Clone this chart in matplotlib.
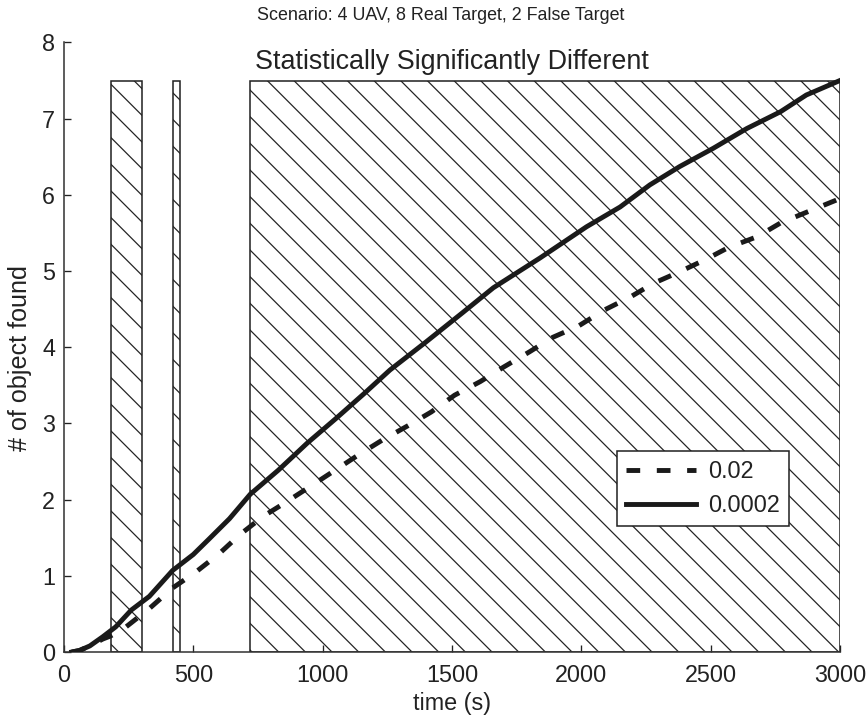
import matplotlib
matplotlib.use("Agg")
import matplotlib.pyplot as plt
from matplotlib.patches import Rectangle

plt.rcParams['font.family'] = ['Liberation Sans', 'DejaVu Sans']
plt.rcParams['hatch.linewidth'] = 0.55

# Data
t_solid = [30, 60, 100, 150, 200, 260, 330, 420, 500, 560, 640, 720, 830, 940, 1050,
           1160, 1260, 1400, 1540, 1660, 1840, 2020, 2150, 2265, 2380, 2510, 2640,
           2770, 2870, 3000]
y_solid = [0, 0.02, 0.08, 0.2, 0.33, 0.55, 0.73, 1.07, 1.28, 1.48, 1.75, 2.07, 2.39,
           2.74, 3.06, 3.39, 3.70, 4.07, 4.45, 4.78, 5.17, 5.58, 5.84, 6.13, 6.37,
           6.61, 6.87, 7.09, 7.31, 7.50]
t_dash = [30, 60, 100, 150, 180, 240, 330, 420, 510, 600, 680, 770, 860, 960, 1050,
          1140, 1230, 1330, 1420, 1510, 1610, 1700, 1800, 1890, 1990, 2090, 2190,
          2280, 2380, 2480, 2570, 2680, 2770, 2870, 3000]
y_dash = [0, 0.02, 0.08, 0.17, 0.21, 0.33, 0.57, 0.84, 1.05, 1.29, 1.54, 1.78, 1.97,
          2.19, 2.39, 2.59, 2.78, 2.97, 3.15, 3.37, 3.55, 3.74, 3.94, 4.13, 4.28,
          4.49, 4.66, 4.84, 4.99, 5.15, 5.31, 5.45, 5.63, 5.77, 5.95]
sig_start = [180, 420, 720]
sig_end = [300, 450, 3000]
sig_height = 7.5
labels = ['0.02', '0.0002']
xticks = [0, 500, 1000, 1500, 2000, 2500, 3000]
yticks = [0, 1, 2, 3, 4, 5, 6, 7, 8]

DPI = 160
fig = plt.figure(figsize=(868 / DPI, 715 / DPI), dpi=DPI)
ax = fig.add_axes([0.0737, 0.0881, 0.8940, 0.8526])

for s, e in zip(sig_start, sig_end):
    ax.add_patch(Rectangle((s, 0), e - s, sig_height, facecolor='white',
                           edgecolor='#222222', linewidth=0.7, hatch='\\\\',
                           zorder=1))

ax.plot(t_dash, y_dash, color='#1a1a1a', linewidth=2.2, dashes=(2.8, 3.4),
        label=labels[0], zorder=3)
ax.plot(t_solid, y_solid, color='#1a1a1a', linewidth=2.2, label=labels[1], zorder=3)

ax.set_xlim(0, 3000)
ax.set_ylim(0, 8)
ax.set_xticks(xticks)
ax.set_yticks(yticks)
ax.tick_params(direction='in', length=3, width=0.6, labelsize=10.5,
               colors='#222222')
ax.tick_params(axis='x', pad=5.5)
ax.tick_params(axis='y', pad=4)
for side in ['top', 'right']:
    ax.spines[side].set_visible(False)
for side in ['left', 'bottom']:
    ax.spines[side].set_linewidth(0.7)
    ax.spines[side].set_color('#333333')

ax.set_xlabel('time (s)', fontsize=10.5, color='#222222', labelpad=2.0)
ax.set_ylabel('# of object found', fontsize=11.3, color='#222222')
ax.yaxis.set_label_coords(-0.041, 0.482)

ax.text(1500, 7.74, 'Statistically Significantly Different', fontsize=12.1,
        ha='center', va='center', color='#222222')
fig.text(0.508, 0.979, 'Scenario: 4 UAV, 8 Real Target, 2 False Target',
         fontsize=8.05, ha='center', va='center', color='#222222')

leg = ax.legend(loc='lower left', bbox_to_anchor=(0.7126, 0.2067), fontsize=10.5,
                frameon=True, fancybox=False, framealpha=1, edgecolor='#222222',
                handlelength=3.0, handletextpad=0.5, borderpad=0.4,
                labelspacing=0.45, borderaxespad=0)
leg.get_frame().set_linewidth(0.7)
for txt in leg.get_texts():
    txt.set_color('#222222')

fig.savefig('out.png', dpi=DPI)
